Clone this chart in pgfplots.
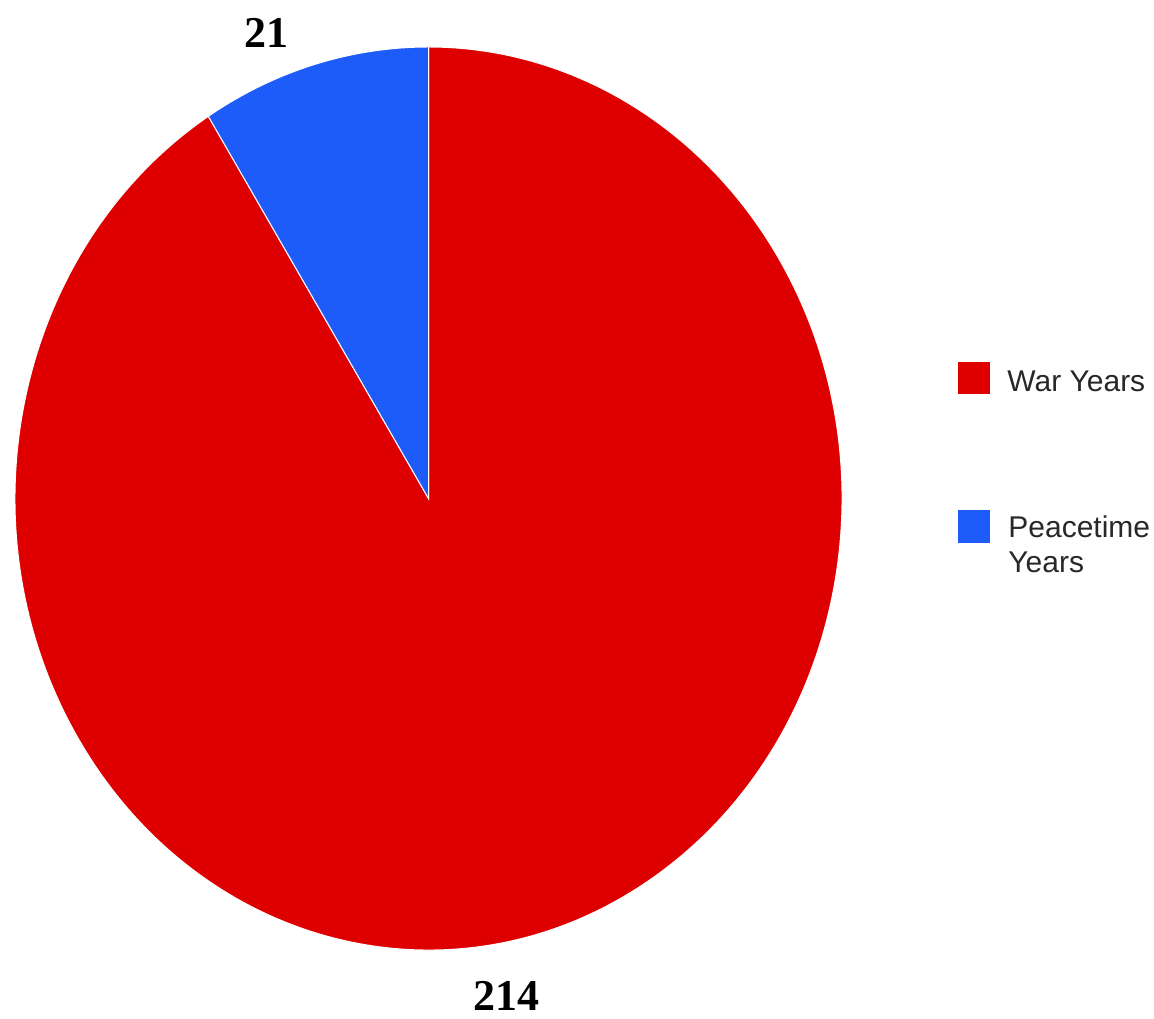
\documentclass[border=0pt]{standalone}
\usepackage{pgfplots}
\pgfplotsset{compat=1.18}
\usepackage{pgfplotstable}
\usepackage{fontspec}
\setmainfont{Liberation Sans}
\newfontfamily\labelfont{Liberation Serif}
\definecolor{warred}{RGB}{222,0,0}
\definecolor{peaceblue}{RGB}{30,92,250}
\definecolor{legtext}{RGB}{40,40,40}
\pgfplotstableread{
label value
War 214
Peace 21
}\piedata
\pgfplotstablegetelem{0}{value}\of\piedata \let\warv\pgfplotsretval
\pgfplotstablegetelem{1}{value}\of\piedata \let\peacev\pgfplotsretval
\pgfmathsetmacro\total{\warv+\peacev}
\pgfmathsetmacro\split{90+360*\peacev/\total}
\begin{document}
\begin{tikzpicture}
\begin{axis}[x=0.5pt,y=0.5pt,xmin=0,xmax=1154,ymin=0,ymax=1018,
  hide axis,clip=false,scale only axis]
\coordinate (bl) at (axis cs:0,0);
\coordinate (tr) at (axis cs:1154,1018);
% War Years slice
\fill[warred, draw=white, line width=0.5pt] (axis cs:428.5,519.5)
  -- +({206.75pt*cos(\split)},{225.75pt*sin(\split)})
  arc[start angle=\split, end angle=450, x radius=206.75pt, y radius=225.75pt] -- cycle;
% Peacetime slice
\fill[peaceblue, draw=white, line width=0.5pt] (axis cs:428.5,519.5)
  -- +(0pt,225.75pt)
  arc[start angle=90, end angle=\split, x radius=206.75pt, y radius=225.75pt] -- cycle;
% value labels
\node[inner sep=0pt, font=\labelfont\bfseries\fontsize{22}{26}\selectfont] at (axis cs:266,985) {\peacev};
\node[inner sep=0pt, font=\labelfont\bfseries\fontsize{22}{26}\selectfont] at (axis cs:506,22) {\warv};
% legend
\fill[warred] (axis cs:958,656) rectangle (axis cs:990,624);
\fill[peaceblue] (axis cs:958,508) rectangle (axis cs:990,475);
\node[anchor=base west, inner sep=0pt, text=legtext, font=\fontsize{15}{17}\selectfont] at (axis cs:1007,626) {War Years};
\node[anchor=base west, inner sep=0pt, text=legtext, font=\fontsize{15}{17}\selectfont] at (axis cs:1008,481) {Peacetime};
\node[anchor=base west, inner sep=0pt, text=legtext, font=\fontsize{15}{17}\selectfont] at (axis cs:1008,446) {Years};
\end{axis}
\pgfresetboundingbox
\path[use as bounding box] (bl) rectangle (tr);
\end{tikzpicture}
\end{document}
